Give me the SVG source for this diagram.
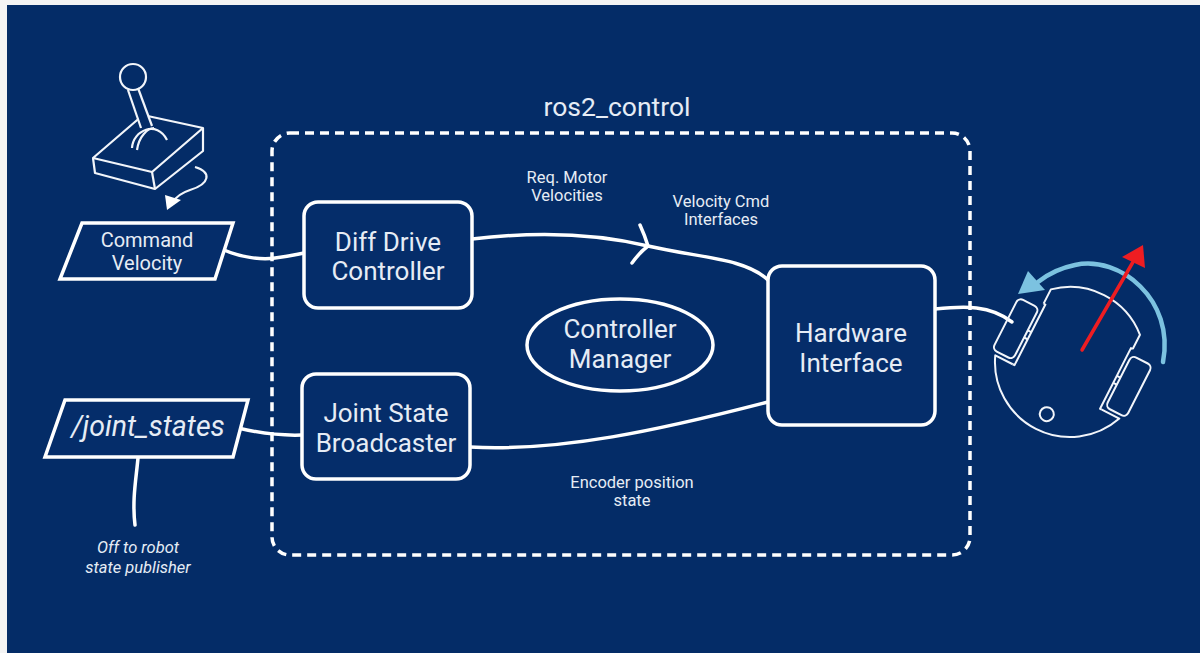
<svg xmlns="http://www.w3.org/2000/svg" width="1200" height="653" viewBox="0 0 1200 653">
  <style>
    .ln { fill: none; stroke: #ffffff; stroke-width: 3.5; stroke-linecap: round; stroke-linejoin: round; }
    .thin { fill: none; stroke: #f2f5fa; stroke-width: 2.2; stroke-linejoin: round; }
    .box { fill: #052d6a; stroke: #ffffff; stroke-width: 3.5; }
    .t { font-family: Roboto, "Liberation Sans", sans-serif; fill: #e6ecf5; text-anchor: middle; }
    .big { font-size: 26px; }
    .mid { font-size: 20px; }
    .sm { font-size: 16.5px; }
    .it { font-style: italic; }
  </style>

  <!-- page edge and canvas -->
  <rect x="0" y="0" width="1200" height="653" fill="#f4f4f4"/>
  <rect x="7" y="5" width="1193" height="648" fill="#042c67"/>

  <!-- ros2_control boundary -->
  <g id="ros2_control">
    <rect x="272" y="133" width="698" height="422" rx="18" fill="none" stroke="#ffffff" stroke-width="3.5" stroke-dasharray="9 6"/>
    <text class="t" x="617" y="116" font-size="26.5">ros2_control</text>
  </g>

  <!-- joystick -->
  <g id="joystick">
    <polygon class="thin" points="93,158 143,115 203,128 152,172"/>
    <polyline class="thin" points="93,158 95,173 155,189 203,151 203,128"/>
    <line class="thin" x1="152" y1="172" x2="155" y2="189"/>
    <polygon points="128,90 138,88 152,125 142,128" fill="#042c67"/>
    <line class="thin" x1="128" y1="90" x2="141" y2="128"/>
    <line class="thin" x1="138" y1="88" x2="152" y2="126"/>
    <path class="thin" d="M132 148 C133 130 157 120 167 140"/>
    <path class="thin" d="M137 150 C139 136 148 128 154 128"/>
    <circle class="thin" cx="133" cy="77" r="13"/>
    <path class="thin" d="M195 167 C212 172 210 184 190 190 C181 193 176 197 173 202"/>
    <polygon points="167,210 165,195 181,200" fill="#ffffff"/>
  </g>

  <!-- connectors -->
  <g id="connectors">
    <path class="ln" d="M224 250 C240 257 260 260 275 258 C290 256 298 254 304 253"/>
    <path class="ln" d="M472 239 C530 232 590 232 648 246 C700 258 745 258 768 280"/>
    <path class="ln" d="M640 225 Q645 236 648 246 Q640 252 632 263"/>
    <path class="ln" d="M470 447 C560 452 660 430 768 402"/>
    <path class="ln" d="M238 428 C255 432 275 436 302 435"/>
    <path class="ln" d="M138 458 C136 480 132 500 135 525"/>
    <path class="ln" d="M935 309 C965 306 990 305 1012 322"/>
  </g>

  <!-- edge labels -->
  <g id="labels">
    <text class="t sm" x="567" y="183">Req. Motor</text>
    <text class="t sm" x="567" y="201">Velocities</text>
    <text class="t sm" x="721" y="207">Velocity Cmd</text>
    <text class="t sm" x="721" y="225">Interfaces</text>
    <text class="t sm" x="632" y="488">Encoder position</text>
    <text class="t sm" x="632" y="506">state</text>
    <text class="t sm it" x="138" y="553">Off to robot</text>
    <text class="t sm it" x="138" y="573">state publisher</text>
  </g>

  <g id="command_velocity">
    <polygon class="box" points="82,223 233,223 215,279 60,279"/>
    <text class="t mid" x="147" y="247">Command</text>
    <text class="t mid" x="147" y="270">Velocity</text>
  </g>

  <g id="joint_states">
    <polygon class="box" points="65,400 248,400 233,457 45,457"/>
    <text class="t it" x="148" y="436" font-size="28.5">/joint_states</text>
  </g>

  <g id="diff_drive_controller">
    <rect class="box" x="304" y="202" width="168" height="106" rx="14"/>
    <text class="t big" x="388" y="251">Diff Drive</text>
    <text class="t big" x="388" y="280">Controller</text>
  </g>

  <g id="joint_state_broadcaster">
    <rect class="box" x="302" y="374" width="168" height="105" rx="14"/>
    <text class="t big" x="386" y="422">Joint State</text>
    <text class="t big" x="386" y="452">Broadcaster</text>
  </g>

  <g id="controller_manager">
    <ellipse class="box" cx="620" cy="345" rx="93" ry="46"/>
    <text class="t big" x="620" y="338">Controller</text>
    <text class="t big" x="620" y="368">Manager</text>
  </g>

  <g id="hardware_interface">
    <rect class="box" x="768" y="266" width="167" height="159" rx="14"/>
    <text class="t big" x="851" y="342">Hardware</text>
    <text class="t big" x="851" y="372">Interface</text>
  </g>

  <!-- robot, top view -->
  <g id="robot">
    <g transform="translate(1070,362) rotate(27)" fill="none" stroke="#f2f5fa" stroke-width="2" stroke-linejoin="round">
      <path d="M-50 -40 L-50 -56 A75 75 0 0 1 50 -56 L50 -40 M50 28 L69.6 28 A75 75 0 0 1 -69.6 28 L-50 28"/>
      <path d="M-50 -40 L-48 -40 L-48 28 L-50 28 M50 -40 L48 -40 L48 28 L50 28"/>
      <rect x="-75" y="-34" width="23" height="58" rx="5"/>
      <rect x="52" y="-34" width="23" height="58" rx="5"/>
      <path d="M-52 -9 L-48 -9 M-52 -1 L-48 -1 M52 -9 L48 -9 M52 -1 L48 -1"/>
      <circle cx="3" cy="57" r="7"/>
    </g>
    <path d="M1163 362 C1175 300 1120 255 1075 265 C1060 268 1048 274 1038 282" fill="none" stroke="#7cc2e0" stroke-width="4.5" stroke-linecap="round"/>
    <polygon points="1018,294 1028,271 1045,290" fill="#7cc2e0"/>
    <line x1="1082" y1="350" x2="1133" y2="262" stroke="#ee1d22" stroke-width="3.5" stroke-linecap="round"/>
    <polygon points="1143,245 1122,257 1145,268" fill="#ee1d22"/>
  </g>
</svg>
